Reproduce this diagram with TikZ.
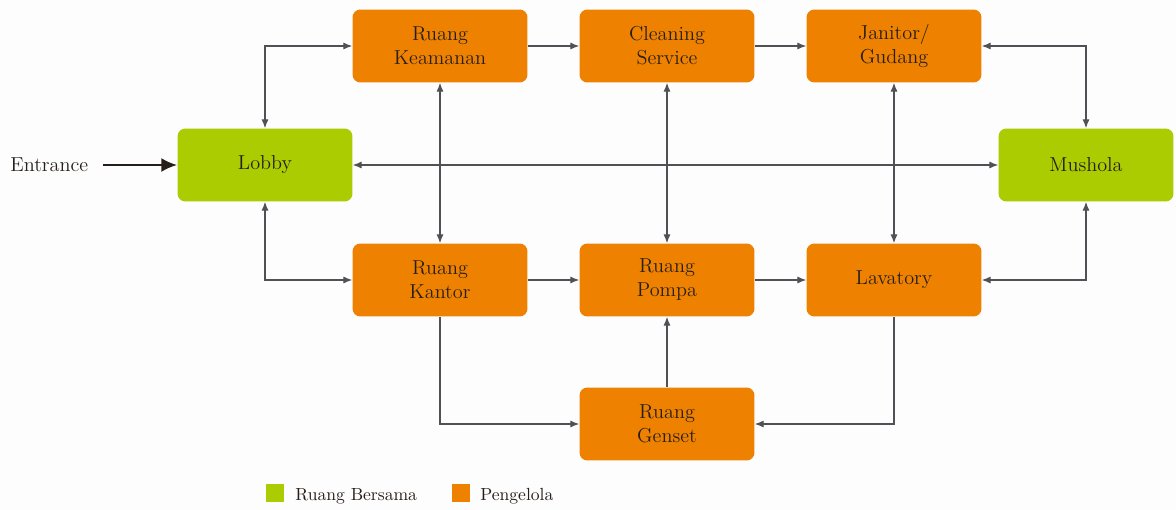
\documentclass[tikz,border=0pt]{standalone}
\usetikzlibrary{arrows.meta}
\definecolor{orng}{RGB}{238,130,0}
\definecolor{grn}{RGB}{170,204,0}
\definecolor{txt}{RGB}{40,30,25}
\definecolor{ln}{RGB}{80,80,85}
\definecolor{bg}{RGB}{253,253,253}
\begin{document}
\begin{tikzpicture}[x=0.02cm,y=-0.02cm,
  box/.style={rounded corners=4.5pt, minimum width=3.5cm, minimum height=1.46cm, inner sep=0pt,
    align=center, text=txt, font=\fontsize{11.5}{13.6}\selectfont},
  obox/.style={box, fill=orng},
  gbox/.style={box, fill=grn},
  dbl/.style={draw=ln, line width=0.6pt, {Latex[length=5pt,width=4pt]}-{Latex[length=5pt,width=4pt]}},
  sgl/.style={draw=ln, line width=0.6pt, -{Latex[length=5pt,width=4pt]}},
  legsq/.style={minimum size=0.36cm, inner sep=0pt},
  legtxt/.style={anchor=west, inner sep=0pt, text=txt, font=\fontsize{10}{12}\selectfont}]
\fill[bg] (0,0) rectangle (1176,510);
\useasboundingbox (0,0) rectangle (1176,510);

\node[obox] (keam) at (440,46) {Ruang\\Keamanan};
\node[obox] (clean) at (667,46) {Cleaning\\Service};
\node[obox] (jan) at (894,46) {Janitor/\\Gudang};
\node[gbox] (lobby) at (265,165) {Lobby};
\node[gbox] (mush) at (1086,165) {Mushola};
\node[obox] (kantor) at (440,280) {Ruang\\Kantor};
\node[obox] (pompa) at (667,280) {Ruang\\Pompa};
\node[obox] (lav) at (894,280) {Lavatory};
\node[obox] (gen) at (667,424) {Ruang\\Genset};

\node[anchor=west, inner sep=0pt, text=txt, font=\fontsize{11.5}{13.6}\selectfont] (ent) at (10,165) {Entrance};
\draw[line width=1.5pt, draw=txt, -{Latex[length=9pt,width=8pt]}, shorten <=8pt] (ent.east) -- (lobby.west);

\draw[dbl] (keam.west) -| (lobby.north);
\draw[dbl] (kantor.west) -| (lobby.south);
\draw[sgl] (keam) -- (clean);
\draw[sgl] (clean) -- (jan);
\draw[dbl] (jan.east) -| (mush.north);
\draw[dbl] (lobby) -- (mush);
\draw[dbl] (keam) -- (kantor);
\draw[dbl] (clean) -- (pompa);
\draw[dbl] (jan) -- (lav);
\draw[sgl] (kantor) -- (pompa);
\draw[sgl] (pompa) -- (lav);
\draw[dbl] (lav.east) -| (mush.south);
\draw[sgl] (kantor.south) |- (gen.west);
\draw[sgl] (lav.south) |- (gen.east);
\draw[sgl] (gen) -- (pompa);

\node[legsq, fill=grn] (lg1) at (275,493) {};
\node[legtxt] (lt1) at (295,496) {Ruang Bersama};
\node[legsq, fill=orng] (lg2) at (461,493) {};
\node[legtxt] (lt2) at (480,496) {Pengelola};
\end{tikzpicture}
\end{document}
